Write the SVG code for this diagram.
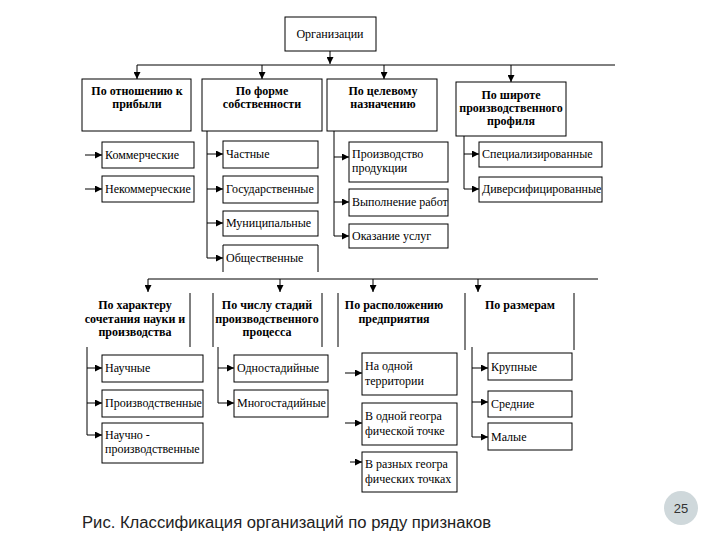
<svg xmlns="http://www.w3.org/2000/svg" width="720" height="540" viewBox="0 0 720 540">
<defs>
<marker id="ar" viewBox="0 0 8 8" refX="8" refY="4" markerWidth="7" markerHeight="7" markerUnits="userSpaceOnUse" orient="auto">
<path d="M0,0 L8,4 L0,8 z" fill="#000"/>
</marker>
</defs>
<style>
.b{fill:#fff;stroke:#000;stroke-width:1}
.o{fill:none;stroke:#000;stroke-width:1}
.c{fill:none;stroke:#000;stroke-width:1}
.h{font-family:"Liberation Serif","Times New Roman",serif;font-size:12px;font-weight:bold;text-anchor:middle;fill:#000}
.t{font-family:"Liberation Serif","Times New Roman",serif;font-size:12px;fill:#000}
.cap{font-family:"Liberation Sans",Arial,sans-serif;font-size:16px;fill:#222}
</style>
<rect width="720" height="540" fill="#fff"/>

<g id="connectors">
<path class="c" d="M330,51 V64" marker-end="url(#ar)"/>
<path class="c" d="M137,65 H615"/>
<path class="c" d="M137,65 V79" marker-end="url(#ar)"/>
<path class="c" d="M262,65 V79" marker-end="url(#ar)"/>
<path class="c" d="M384,65 V79" marker-end="url(#ar)"/>
<path class="c" d="M511,65 V82" marker-end="url(#ar)"/>
<path class="c" d="M85,155 H102" marker-end="url(#ar)"/>
<path class="c" d="M85,189 H102" marker-end="url(#ar)"/>
<path class="c" d="M207,131 V258 H223" marker-end="url(#ar)"/>
<path class="c" d="M207,154 H223" marker-end="url(#ar)"/>
<path class="c" d="M207,189 H223" marker-end="url(#ar)"/>
<path class="c" d="M207,223 H223" marker-end="url(#ar)"/>
<path class="c" d="M334,131 V236 H349" marker-end="url(#ar)"/>
<path class="c" d="M334,157 H349" marker-end="url(#ar)"/>
<path class="c" d="M334,202 H349" marker-end="url(#ar)"/>
<path class="c" d="M464,136 V189 H479" marker-end="url(#ar)"/>
<path class="c" d="M464,154 H479" marker-end="url(#ar)"/>
<path class="c" d="M148,279 H598"/>
<path class="c" d="M148,279 V292" marker-end="url(#ar)"/>
<path class="c" d="M280,279 V292" marker-end="url(#ar)"/>
<path class="c" d="M373,279 V292" marker-end="url(#ar)"/>
<path class="c" d="M478,279 V292" marker-end="url(#ar)"/>
<path class="c" d="M87,347 V435 H102" marker-end="url(#ar)"/>
<path class="c" d="M87,368 H102" marker-end="url(#ar)"/>
<path class="c" d="M87,403 H102" marker-end="url(#ar)"/>
<path class="c" d="M218,347 V403 H234" marker-end="url(#ar)"/>
<path class="c" d="M218,368 H234" marker-end="url(#ar)"/>
<path class="c" d="M345,373 H362" marker-end="url(#ar)"/>
<path class="c" d="M345,423 H362" marker-end="url(#ar)"/>
<path class="c" d="M350,462 H362" marker-end="url(#ar)"/>
<path class="c" d="M472,347 V437 H488" marker-end="url(#ar)"/>
<path class="c" d="M472,368 H488" marker-end="url(#ar)"/>
<path class="c" d="M472,402 H488" marker-end="url(#ar)"/>
</g>

<g id="n-org"><rect class="b" x="285" y="17" width="91" height="34"/><text class="t" x="330" y="38" text-anchor="middle">Организации</text></g>

<g id="n-profit"><rect class="b" x="82" y="79" width="109" height="52"/><text class="h" x="137" y="95">По отношению к</text><text class="h" x="137" y="108">прибыли</text></g>
<g id="n-own"><rect class="b" x="202" y="79" width="120" height="52"/><text class="h" x="262" y="95">По форме</text><text class="h" x="262" y="108">собственности</text></g>
<g id="n-purpose"><rect class="b" x="327" y="79" width="110" height="52"/><text class="h" x="383" y="95">По целевому</text><text class="h" x="383" y="108">назначению</text></g>
<g id="n-width"><rect class="b" x="456" y="82" width="110" height="54"/><text class="h" x="511" y="99">По широте</text><text class="h" x="511" y="112">производственного</text><text class="h" x="511" y="125">профиля</text></g>

<g id="n-comm"><rect class="b" x="102" y="142" width="92" height="26"/><text class="t" x="105" y="159">Коммерческие</text></g>
<g id="n-noncomm"><rect class="b" x="102" y="176" width="92" height="26"/><text class="t" x="105" y="193">Некоммерческие</text></g>
<g id="n-private"><rect class="b" x="223" y="141" width="95" height="27"/><text class="t" x="226" y="158">Частные</text></g>
<g id="n-state"><rect class="b" x="223" y="176" width="95" height="27"/><text class="t" x="226" y="193">Государственные</text></g>
<g id="n-munic"><rect class="b" x="223" y="211" width="95" height="25"/><text class="t" x="226" y="227">Муниципальные</text></g>
<g id="n-public"><path class="o" d="M223,272 V245 H318 V272"/><text class="t" x="226" y="262">Общественные</text></g>
<g id="n-prod"><rect class="b" x="349" y="142" width="99" height="40"/><text class="t" x="352" y="158">Производство</text><text class="t" x="352" y="172">продукции</text></g>
<g id="n-works"><rect class="b" x="349" y="189" width="99" height="27"/><text class="t" x="352" y="206">Выполнение работ</text></g>
<g id="n-serv"><rect class="b" x="349" y="224" width="99" height="24"/><text class="t" x="352" y="240">Оказание услуг</text></g>
<g id="n-spec"><rect class="b" x="479" y="142" width="123" height="25"/><text class="t" x="482" y="158">Специализированные</text></g>
<g id="n-div"><rect class="b" x="479" y="177" width="123" height="25"/><text class="t" x="482" y="193">Диверсифицированные</text></g>

<g id="n-science"><path class="o" d="M190,293 V347"/><text class="h" x="135" y="309">По характеру</text><text class="h" x="135" y="323">сочетания науки и</text><text class="h" x="135" y="336">производства</text></g>
<g id="n-stages"><path class="o" d="M213,293 V347 M322,293 V347"/><text class="h" x="267" y="309">По числу стадий</text><text class="h" x="267" y="323">производственного</text><text class="h" x="267" y="336">процесса</text></g>
<g id="n-location"><path class="o" d="M338,293 V347 M465,293 V350"/><text class="h" x="394" y="309">По расположению</text><text class="h" x="394" y="323">предприятия</text></g>
<g id="n-size"><path class="o" d="M574,293 V350"/><text class="h" x="520" y="309">По размерам</text></g>

<g id="n-sci"><rect class="b" x="102" y="355" width="101" height="27"/><text class="t" x="105" y="372">Научные</text></g>
<g id="n-indus"><rect class="b" x="102" y="390" width="101" height="27"/><text class="t" x="105" y="407">Производственные</text></g>
<g id="n-sciind"><rect class="b" x="102" y="423" width="101" height="40"/><text class="t" x="105" y="439">Научно -</text><text class="t" x="105" y="453">производственные</text></g>
<g id="n-one"><rect class="b" x="234" y="355" width="94" height="27"/><text class="t" x="237" y="372">Одностадийные</text></g>
<g id="n-multi"><rect class="b" x="234" y="390" width="94" height="27"/><text class="t" x="237" y="407">Многостадийные</text></g>
<g id="n-terr"><rect class="b" x="362" y="353" width="95" height="42"/><text class="t" x="365" y="370">На одной</text><text class="t" x="365" y="385">территории</text></g>
<g id="n-point"><rect class="b" x="362" y="403" width="95" height="42"/><text class="t" x="365" y="420">В одной геогра</text><text class="t" x="365" y="435">фической точке</text></g>
<g id="n-points"><rect class="b" x="362" y="452" width="95" height="40"/><text class="t" x="365" y="468">В разных геогра</text><text class="t" x="365" y="483">фических точках</text></g>
<g id="n-large"><rect class="b" x="488" y="353" width="84" height="27"/><text class="t" x="491" y="371">Крупные</text></g>
<g id="n-medium"><rect class="b" x="488" y="391" width="84" height="26"/><text class="t" x="491" y="408">Средние</text></g>
<g id="n-small"><rect class="b" x="488" y="423" width="84" height="27"/><text class="t" x="491" y="441">Малые</text></g>

<text class="cap" x="82" y="528" textLength="409" lengthAdjust="spacingAndGlyphs">Рис. Классификация организаций по ряду признаков</text>
<circle cx="681" cy="508" r="17" fill="#cfd8db"/>
<text x="681" y="513" text-anchor="middle" font-family="Liberation Sans, Arial, sans-serif" font-size="13" fill="#333">25</text>
</svg>
